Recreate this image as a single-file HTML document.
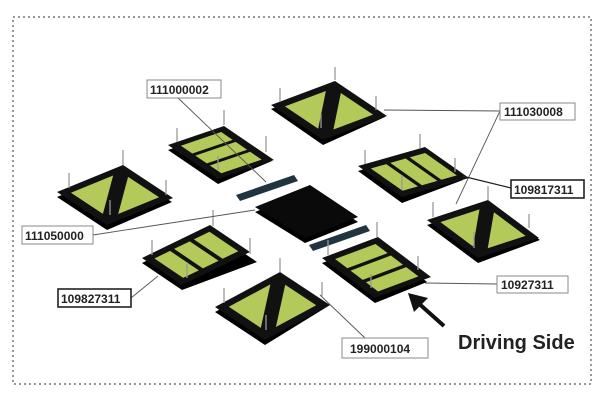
<!DOCTYPE html>
<html><head><meta charset="utf-8"><style>
html,body{margin:0;padding:0;background:#fff;}
svg{display:block;}
.lb{font-family:"Liberation Sans",sans-serif;font-weight:bold;font-size:12px;fill:#222;}
</style></head><body>
<svg width="600" height="400" viewBox="0 0 600 400" xmlns="http://www.w3.org/2000/svg">
<rect x="13" y="17" width="578" height="367" fill="none" stroke="#777" stroke-width="1.5" stroke-dasharray="2,3"/>

<defs>
<g id="base">
  <polygon points="0,0 100,0 100,100 0,100" fill="#0c0c0c"/>
</g>
<g id="r3v">
  <polygon points="0,0 100,0 100,100 0,100" fill="#111"/>
  <rect x="14" y="10" width="72" height="23" fill="#b3c95a"/>
  <rect x="14" y="39" width="72" height="23" fill="#b3c95a"/>
  <rect x="14" y="68" width="72" height="23" fill="#b3c95a"/>
</g>
<g id="r3u">
  <polygon points="0,0 100,0 100,100 0,100" fill="#111"/>
  <rect y="14" x="10" height="72" width="23" fill="#b3c95a"/>
  <rect y="14" x="39" height="72" width="23" fill="#b3c95a"/>
  <rect y="14" x="68" height="72" width="23" fill="#b3c95a"/>
</g>
<g id="tri">
  <polygon points="0,0 100,0 100,100 0,100" fill="#111"/>
  <polygon points="12,12 76,12 12,76" fill="#b3c95a"/>
  <polygon points="88,26 88,88 26,88" fill="#b3c95a"/>
</g>
</defs>

<!-- shadows / thickness -->
<g fill="#000">
<polygon points="271,109 335,85 385,117 323,145"/>
<polygon points="168,150 224,131 272,161 218,184"/>
<polygon points="358,171 425,151 463,180 402,203"/>
<polygon points="57,197 123,170 172,202 107,230"/>
<polygon points="142,263 210,230 257,262 182,290"/>
<polygon points="215,312 280,277 330,305 265,345"/>
<polygon points="427,225 488,205 540,240 478,263"/>
<polygon points="322,263 378,242 427,282 375,303"/>
<polygon points="255,212 310,190 358,222 305,243"/>
</g>

<!-- pads: matrix(a b c d e f) ; u: L->T, v: L->B -->
<use href="#tri" transform="matrix(0.64 -0.24 0.52 0.35 271 105)"/>
<use href="#r3v" transform="matrix(0.56 -0.19 0.50 0.34 168 145)"/>
<use href="#r3u" transform="matrix(0.67 -0.19 0.44 0.31 358 166)"/>
<use href="#tri" transform="matrix(0.66 -0.27 0.50 0.33 57 192)"/>
<use href="#r3u" transform="matrix(0.68 -0.33 0.40 0.27 142 258)"/>
<use href="#tri" transform="matrix(0.65 -0.35 0.50 0.33 215 307)"/>
<use href="#tri" transform="matrix(0.61 -0.20 0.51 0.38 427 220)"/>
<use href="#r3v" transform="matrix(0.56 -0.21 0.53 0.40 322 258)"/>
<polygon points="255,207 310,185 358,217 305,238" fill="#0a0a0a"/>

<!-- strips -->
<polygon points="236,195 294,175 298,181 240,201" fill="#1f3440"/>
<polygon points="309,245 366,225 370,231 313,251" fill="#1f3440"/>

<!-- pins -->
<g stroke="#999" stroke-width="1.3">
<line x1="335" y1="80" x2="335" y2="67"/><line x1="280" y1="102" x2="280" y2="88"/><line x1="376" y1="110" x2="376" y2="96"/><line x1="321" y1="128" x2="321" y2="114"/>
<line x1="224" y1="125" x2="224" y2="110"/><line x1="177" y1="142" x2="177" y2="128"/><line x1="266" y1="152" x2="266" y2="136"/><line x1="218" y1="170" x2="218" y2="156"/>
<line x1="420" y1="148" x2="420" y2="134"/><line x1="365" y1="164" x2="365" y2="150"/><line x1="455" y1="172" x2="455" y2="158"/><line x1="402" y1="190" x2="402" y2="175"/>
<line x1="123" y1="165" x2="123" y2="150"/><line x1="69" y1="188" x2="69" y2="173"/><line x1="166" y1="195" x2="166" y2="180"/><line x1="110" y1="215" x2="110" y2="200"/>
<line x1="213" y1="226" x2="213" y2="210"/><line x1="152" y1="255" x2="152" y2="240"/><line x1="250" y1="254" x2="250" y2="238"/><line x1="187" y1="278" x2="187" y2="262"/>
<line x1="280" y1="272" x2="280" y2="258"/><line x1="224" y1="303" x2="224" y2="288"/><line x1="322" y1="296" x2="322" y2="282"/><line x1="266" y1="330" x2="266" y2="315"/>
<line x1="488" y1="200" x2="488" y2="186"/><line x1="433" y1="217" x2="433" y2="202"/><line x1="529" y1="228" x2="529" y2="214"/><line x1="474" y1="248" x2="474" y2="232"/>
<line x1="377" y1="237" x2="377" y2="222"/><line x1="328" y1="255" x2="328" y2="240"/><line x1="418" y1="270" x2="418" y2="256"/><line x1="371" y1="288" x2="371" y2="274"/>
</g>

<!-- leader lines -->
<g stroke="#555" stroke-width="0.9" fill="none">
<line x1="178" y1="98" x2="266" y2="182"/>
<line x1="384" y1="110" x2="500" y2="111"/>
<line x1="500" y1="111" x2="456" y2="204"/>
<line x1="93" y1="235" x2="255" y2="210"/>
<line x1="131" y1="298" x2="158" y2="276"/>
<line x1="425" y1="283" x2="497" y2="284"/>
<line x1="320" y1="295" x2="365" y2="338"/>
</g>
<line x1="462" y1="176" x2="511" y2="188" stroke="#222" stroke-width="1.3"/>

<!-- labels -->
<g fill="#fff" stroke="#888" stroke-width="1">
<rect x="147" y="80" width="74" height="18"/>
<rect x="500" y="103" width="75" height="17"/>
<rect x="22" y="226" width="71" height="18"/>
<rect x="497" y="276" width="71" height="17"/>
<rect x="342" y="338" width="86" height="20"/>
</g>
<g fill="#fff" stroke="#222" stroke-width="1.6">
<rect x="511" y="180" width="73" height="18"/>
<rect x="58" y="289" width="73" height="18"/>
</g>
<text class="lb" x="150" y="94">111000002</text>
<text class="lb" x="504" y="116">111030008</text>
<text class="lb" x="514" y="194">109817311</text>
<text class="lb" x="25" y="240">111050000</text>
<text class="lb" x="61" y="303">109827311</text>
<text class="lb" x="501" y="289">10927311</text>
<text class="lb" x="350" y="353">199000104</text>
<text x="458" y="349" font-family="Liberation Sans,sans-serif" font-weight="bold" font-size="20" fill="#222">Driving Side</text>

<!-- arrow -->
<line x1="444" y1="326" x2="416" y2="301" stroke="#111" stroke-width="4"/>
<polygon points="408,293 428,298 414,312" fill="#111"/>
</svg>
</body></html>
